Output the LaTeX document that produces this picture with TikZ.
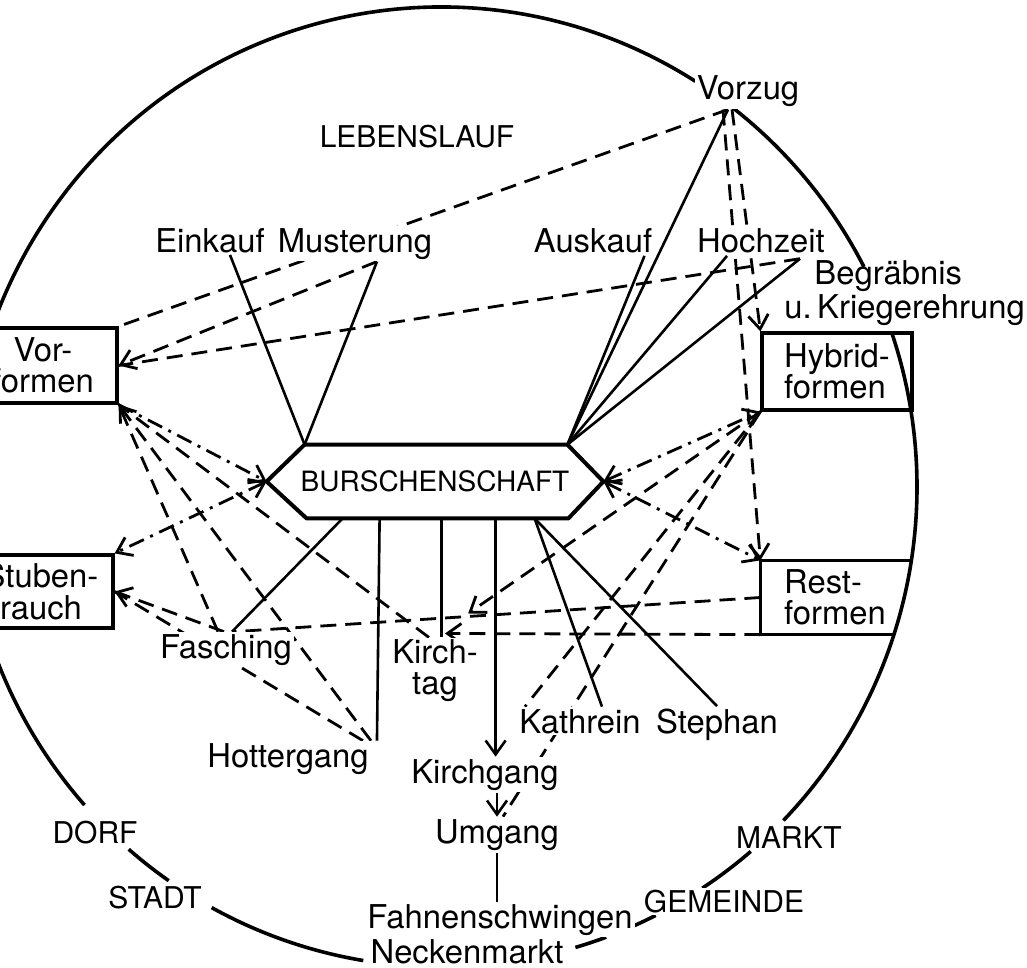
\documentclass[tikz,border=0pt]{standalone}
\usepackage{fontspec}
\setmainfont{TeX Gyre Heros}
\usetikzlibrary{arrows.meta,backgrounds}

\begin{document}
\begin{tikzpicture}[x=0.5pt, y=-0.5pt,
    >={Straight Barb[length=7pt,width=10pt]},
    every node/.style={inner sep=1pt},
    lbl/.style={fill=white, font={\fontsize{16.4}{15.6}\selectfont}},
    caps/.style={font=\fontsize{15}{15}\selectfont},
    formbox/.style={draw, line width=1.6pt, inner sep=0pt,
      font={\fontsize{16.4}{15.6}\selectfont}},
    ring/.style={line width=1.8pt},
    link/.style={line width=1.3pt},
    hint/.style={line width=1.4pt, dash pattern=on 8pt off 4.5pt},
    cross/.style={line width=1.4pt, dash pattern=on 8pt off 3.5pt on 1.5pt off 3.5pt}]
  \useasboundingbox (0,0) rectangle (1027,968);

  % labels round the ring
  \node[lbl, caps, anchor=base] (lebenslauf) at (417,148) {LEBENSLAUF};
  \node[lbl, anchor=base] (vorzug) at (748,100) {Vorzug};
  \node[lbl, anchor=base] (einkauf) at (210,252) {Einkauf};
  \node[lbl, anchor=base] (musterung) at (355,252) {Musterung};
  \node[lbl, anchor=base] (auskauf) at (593,253) {Auskauf};
  \node[lbl, anchor=base] (hochzeit) at (761,253) {Hochzeit};
  \node[lbl, fill=none, anchor=base west] (begraebnis) at (812,285) {Begräbnis};
  \node[lbl, fill=none, anchor=base west] (kriegerehrung) at (782,318) {u.\,Kriegerehrung};

  % boxes
  \node[formbox, minimum width=74pt, minimum height=37.5pt, align=center] (vorformen) at (43,365.5) {Vor-\\formen};
  \node[formbox, minimum width=72pt, minimum height=36.5pt, align=center] (stubenrauch) at (41,591.5) {Stuben-\\rauch};
  \node[formbox, minimum width=75pt, minimum height=38.5pt, align=left] (hybrid) at (837,371.5) {Hybrid-\\formen};
  \node[formbox, draw=none, minimum width=73pt, minimum height=35.5pt, align=left] (rest) at (835,597.5) {Rest-\\formen};
  \draw[line width=1.6pt] (rest.north east) -- (rest.north west) -- (rest.south west) -- ([xshift=-7.5pt]rest.south east);

  % centre
  \node[font=\fontsize{14}{14}\selectfont, minimum width=168pt, minimum height=36.5pt, inner sep=0pt] (bursch) at (435,481.5) {BURSCHENSCHAFT};
  \coordinate (b-l) at (bursch.west);
  \coordinate (b-r) at (bursch.east);
  \coordinate (b-tl) at ([xshift=19pt]bursch.north west);
  \coordinate (b-tr) at ([xshift=-18pt]bursch.north east);
  \coordinate (b-br) at ([xshift=-17.5pt]bursch.south east);
  \coordinate (b-bl) at ([xshift=20pt]bursch.south west);
  \draw[line width=2pt, line join=round] (b-l) -- (b-tl) -- (b-tr) -- (b-r) -- (b-br) -- (b-bl) -- cycle;
  \coordinate (b-fa) at ([xshift=38pt]bursch.south west);
  \coordinate (b-ho) at ([xshift=56.5pt]bursch.south west);
  \coordinate (b-ki) at ([xshift=87.5pt]bursch.south west);
  \coordinate (b-kg) at ([xshift=114.5pt]bursch.south west);
  \coordinate (b-ks) at ([xshift=134pt]bursch.south west);

  % feasts below
  \node[lbl, anchor=base] (fasching) at (226,658) {Fasching};
  \node[lbl, align=center] (kirchtag) at (435,671) {Kirch-\\tag};
  \node[lbl, anchor=base] (hottergang) at (288,767) {Hottergang};
  \node[lbl, anchor=base] (kathrein) at (580,733) {Kathrein};
  \node[lbl, anchor=base] (stephan) at (717,733) {Stephan};
  \node[lbl, anchor=base] (kirchgang) at (485,783) {Kirchgang};
  \node[lbl, anchor=base] (umgang) at (497,843) {Umgang};
  \node[lbl, anchor=base] (fahnen) at (500,928) {Fahnenschwingen};
  \node[lbl, anchor=base] (neckenmarkt) at (467,963) {Neckenmarkt};
  \node[lbl, caps, anchor=base] (dorf) at (95,843) {DORF};
  \node[lbl, caps, anchor=base] (stadt) at (155,908) {STADT};
  \node[lbl, caps, anchor=base] (markt) at (789,848) {MARKT};
  \node[lbl, caps, anchor=base] (gemeinde) at (724,912) {GEMEINDE};

  \begin{scope}[on background layer]
    % the ring, broken at the labels
    \foreach \a/\b in {-57.7/-221.5, 131/124.9, 118.8/99.4, 73.6/69.7, 66.2/63.2, 56.7/49.4, 44/-18.9, -27.3/-52.4}
      \draw[ring] (441,487) ++(\a:476 and 480) arc[start angle=\a, end angle=\b, x radius=476, y radius=480];

    % solid
    \coordinate (vz) at ([xshift=-10pt]vorzug.south);
    \draw[link] ([xshift=10pt]einkauf.south) -- (b-tl);
    \draw[link] ([xshift=11pt]musterung.south) -- (b-tl);
    \draw[link] (vz) -- (b-tr);
    \draw[link] ([xshift=-5pt]auskauf.south east) -- (b-tr);
    \draw[link] ([xshift=-17pt]hochzeit.south) -- (b-tr);
    \draw[link] ([xshift=-6pt]begraebnis.north west) -- (b-tr);
    \draw[link] ([xshift=3pt]fasching.north) -- (b-fa);
    \draw[link] (b-ho) -- ([xshift=3pt]hottergang.north east);
    \draw[link] (b-ki) -- (b-ki |- kirchtag.north);
    \draw[link, ->] (b-kg) -- (b-kg |- kirchgang.north);
    \draw[link, ->] (kirchgang.south -| umgang.north) -- (umgang.north);
    \draw[link] (umgang.south) -- (umgang.south |- fahnen.north);
    \draw[link] (b-ks) -- ([xshift=11pt]kathrein.north);
    \draw[link] (b-ks) -- (stephan.north);

    % dash-dot
    \draw[cross, ->] (vorformen.south east) -- (b-l);
    \draw[cross, <->] (b-l) -- (stubenrauch.north east);
    \draw[cross, <->] (b-r) -- (hybrid.south west);
    \draw[cross, <->] (b-r) -- (rest.north west);

    % dashed
    \draw[hint] (vz) -- (vorformen.north east);
    \draw[hint, ->] ([xshift=2pt]vz) -- (hybrid.north west);
    \draw[hint, ->] ([xshift=-2.5pt]vz) -- (rest.north west);
    \draw[hint, ->] ([xshift=11pt]musterung.south) -- (vorformen.east);
    \draw[hint] ([xshift=-6pt]begraebnis.north west) -- (vorformen.east);
    \draw[hint] ([xshift=-4pt]fasching.north) -- (vorformen.south east);
    \draw[hint, ->] (hottergang.north east) -- (vorformen.south east);
    \draw[hint] ([xshift=-3pt]kirchtag.north) -- (vorformen.south east);
    \draw[hint, ->] ([xshift=-1pt]fasching.north) -- (stubenrauch.east);
    \draw[hint] ([xshift=-4pt]hottergang.north east) -- (stubenrauch.east);
    \draw[hint] (rest.west) -- ([xshift=4pt]fasching.north);
    \draw[hint, ->] (rest.south west) -- ([xshift=5pt,yshift=2pt]kirchtag.north);
    \draw[hint, ->] (hybrid.south west) -- ([xshift=-6pt,yshift=12pt]kirchtag.north east);
    \draw[hint] (hybrid.south west) -- ([xshift=4pt]kathrein.north west);
    \draw[hint] (hybrid.south west) -- ([xshift=3pt]umgang.north);
  \end{scope}
\end{tikzpicture}
\end{document}
